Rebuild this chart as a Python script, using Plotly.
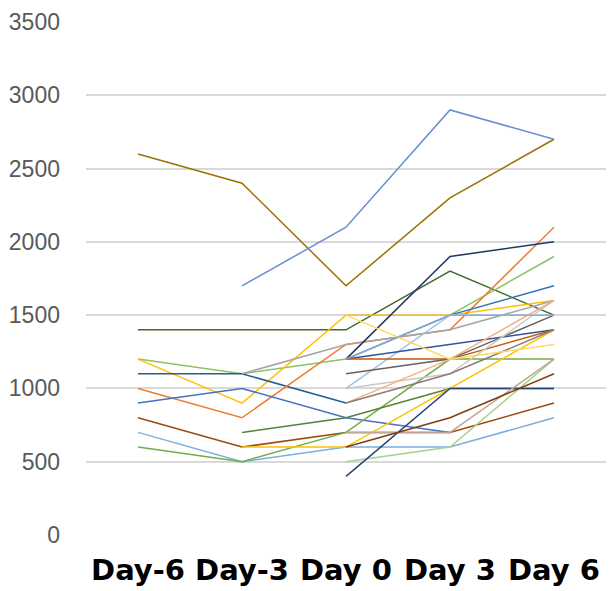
import plotly.graph_objects as go

days = ["Day-6", "Day-3", "Day 0", "Day 3", "Day 6"]
y_ticks = [0, 500, 1000, 1500, 2000, 2500, 3000, 3500]

N = None
s01 = [2600, 2400, 1700, 2300, 2700]
s02 = [N, 1700, 2100, 2900, 2700]
s03 = [1400, 1400, 1400, 1800, 1500]
s04 = [1200, 1100, 1200, 1500, 1900]
s05 = [1200, 900, 1500, 1500, 1600]
s06 = [1100, 1100, 900, N, N]
s07 = [1000, 800, 1300, 1400, 2100]
s08 = [900, 1000, 800, 700, N]
s09 = [800, 600, 700, 700, 900]
s10 = [700, 500, 600, 600, 800]
s11 = [600, 500, 700, 1200, 1200]
s12 = [N, 1100, 1300, 1400, 1600]
s13 = [N, 700, 800, 1000, 1000]
s14 = [N, 600, 600, 1000, 1400]
s15 = [N, N, 500, 600, 1200]
s16 = [N, N, 400, 1000, 1000]
s17 = [N, N, 1200, 1900, 2000]
s18 = [N, N, 1200, 1500, 1700]
s19 = [N, N, 1000, 1500, 1500]
s20 = [N, N, 1200, 1300, 1400]
s21 = [N, N, 1200, 1200, 1400]
s22 = [N, N, 1100, 1200, 1500]
s23 = [N, N, 1000, 1100, 1600]
s24 = [N, N, 900, 1200, 1600]
s25 = [N, N, 900, 1100, 1400]
s26 = [N, N, 1500, 1200, 1300]
s27 = [N, N, 700, 700, 1200]
s28 = [N, N, 600, 800, 1100]
s29 = [N, N, 1200, 1500, 1500]

series = [
    (s01, "#997300"), (s02, "#698ED0"), (s03, "#43682B"), (s04, "#8CC168"),
    (s05, "#FFC000"), (s06, "#255E91"), (s07, "#ED7D31"), (s08, "#4472C4"),
    (s09, "#9E480E"), (s10, "#7CAFDD"), (s11, "#70AD47"), (s12, "#A5A5A5"),
    (s13, "#548235"), (s14, "#FFC000"), (s15, "#A9D18E"), (s16, "#264478"),
    (s17, "#203864"), (s18, "#2E75B6"), (s19, "#9DC3E6"), (s20, "#2F5597"),
    (s21, "#C55A11"), (s22, "#636363"), (s23, "#C9C9C9"), (s24, "#F4B183"),
    (s25, "#8B7D74"), (s26, "#FFD966"), (s27, "#C0A898"), (s28, "#843C0C"),
    (s29, "#8FAADC"),
]

fig = go.Figure()
for vals, col in series:
    fig.add_trace(go.Scatter(x=days, y=vals, mode="lines",
                             line=dict(color=col, width=1.5),
                             connectgaps=False, showlegend=False,
                             hoverinfo="skip"))

fig.update_layout(
    width=607, height=583,
    margin=dict(l=78, r=9, t=14, b=56),
    paper_bgcolor="white", plot_bgcolor="white",
    font=dict(family="Liberation Sans, Arial, sans-serif"),
)
fig.update_xaxes(
    type="category", range=[-0.5, 4.5], automargin=False,
    showgrid=False, zeroline=False, showline=False, ticks="",
    ticklabelstandoff=15,
    tickfont=dict(size=29, color="black", family="DejaVu Sans", weight="bold"),
)
fig.update_yaxes(
    range=[0, 3500], tickvals=y_ticks, automargin=False,
    showgrid=True, gridcolor="#D9D9D9", gridwidth=1.5,
    zeroline=False, showline=False, ticks="",
    ticklabelstandoff=25,
    tickfont=dict(size=23, color="#595959"),
)

fig.write_html("out.html", config={"displayModeBar": False})
